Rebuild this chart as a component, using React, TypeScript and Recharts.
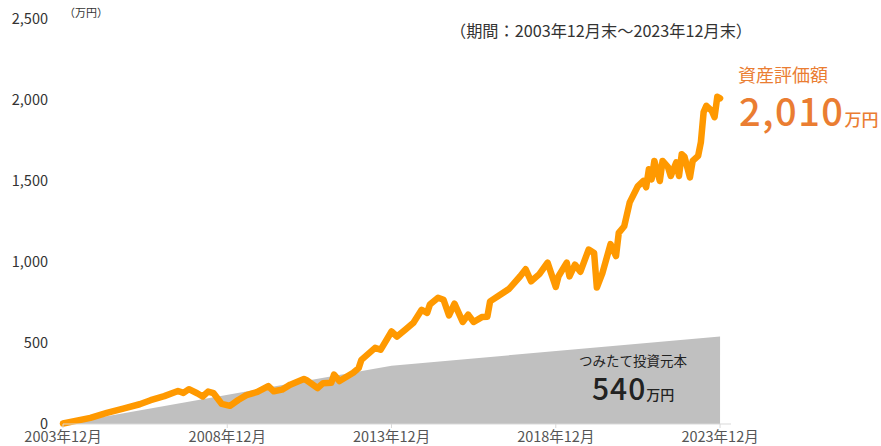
import React from "react";
import { ComposedChart, Line, Area, XAxis, YAxis } from "recharts";

const valueMonths = [0, 10, 16, 22, 28, 32, 37, 42, 44, 46, 49, 51, 53, 55, 58, 61, 64, 67, 71, 75, 77, 80, 83, 88, 89, 93, 95, 98, 99, 101, 106, 108, 109, 114, 116, 120, 122, 125, 128, 131, 133, 134, 137, 139, 141, 143, 146, 148, 150, 153, 155, 156, 159, 163, 167, 169, 171, 174, 177, 180, 181, 184, 185, 187, 189, 192, 194, 195, 197, 200, 202, 203, 205, 207, 210, 212, 213, 214, 215, 216, 218, 219, 221, 222, 224, 225, 226, 227, 229, 230, 232, 233, 234, 235, 237, 238, 239, 240];
const assetValues = [3, 38, 68, 95, 122, 147, 172, 204, 192, 215, 190, 170, 200, 190, 124, 112, 148, 178, 198, 234, 202, 212, 243, 278, 270, 222, 252, 254, 305, 265, 316, 345, 396, 470, 458, 571, 540, 582, 625, 705, 686, 737, 779, 767, 670, 743, 630, 675, 630, 660, 662, 757, 790, 835, 912, 955, 881, 925, 996, 846, 912, 996, 911, 984, 940, 1077, 1055, 842, 930, 1110, 1036, 1180, 1221, 1368, 1469, 1500, 1461, 1572, 1510, 1624, 1500, 1624, 1585, 1531, 1615, 1531, 1665, 1650, 1522, 1624, 1655, 1740, 1925, 1964, 1933, 1894, 2020, 2010];

const principalMonths = [0, 120, 240];
const principalValues = [0, 360, 540];

const xTicks = [0, 60, 120, 180, 240];
const xTickLabels = ["2003年12月", "2008年12月", "2013年12月", "2018年12月", "2023年12月"];
const yTicks = [0, 500, 1000, 1500, 2000, 2500];

const assetData = valueMonths.map((m, i) => ({ m, v: assetValues[i] }));
const principalData = principalMonths.map((m, i) => ({ m, p: principalValues[i] }));

const FONT = '"Noto Sans CJK JP", "Noto Sans", sans-serif';

export default function App() {
  return (
    <div style={{ position: "absolute", left: 0, top: 0, width: 881, height: 446, background: "#fff", fontFamily: FONT }}>
      <ComposedChart width={881} height={446} margin={{ top: 19, right: 150, bottom: 0, left: 0 }}>
        <XAxis
          dataKey="m"
          type="number"
          domain={[0, 244]}
          ticks={xTicks}
          tickFormatter={(v: number) => xTickLabels[xTicks.indexOf(v)]}
          height={22}
          stroke="#d9d9d9"
          tickSize={4}
          tickMargin={4}
          tick={{ fill: "#555", fontSize: 14.5, fontFamily: FONT }}
        />
        <YAxis
          type="number"
          domain={[0, 2500]}
          ticks={yTicks}
          width={63}
          axisLine={false}
          tickLine={false}
          tickSize={0}
          tickMargin={15}
          tickFormatter={(v: number) => v.toLocaleString("en-US")}
          tick={{ fill: "#333", fontSize: 14.5, fontFamily: FONT }}
        />
        <Area
          data={principalData}
          dataKey="p"
          type="linear"
          stroke="none"
          fill="#c0c0c0"
          fillOpacity={1}
          isAnimationActive={false}
        />
        <Line
          data={assetData}
          dataKey="v"
          type="linear"
          stroke="#ff9900"
          strokeWidth={6.5}
          strokeLinejoin="round"
          strokeLinecap="round"
          dot={false}
          isAnimationActive={false}
        />
      </ComposedChart>
      <div style={{ position: "absolute", left: 64, top: 4, fontSize: 11, color: "#333", whiteSpace: "nowrap" }}>（万円）</div>
      <div style={{ position: "absolute", left: 450, top: 18, fontSize: 16.2, color: "#333", whiteSpace: "nowrap" }}>
        （期間：2003年12月末～2023年12月末）
      </div>
      <div style={{ position: "absolute", left: 738, top: 62, fontSize: 18, color: "#ea7d32", whiteSpace: "nowrap", lineHeight: "24px" }}>
        資産評価額
      </div>
      <div style={{ position: "absolute", left: 739, top: 87, color: "#ea7d32", whiteSpace: "nowrap", lineHeight: "46px" }}>
        <span style={{ fontSize: 38, fontWeight: 500, letterSpacing: 1.5 }}>2,010</span>
        <span style={{ fontSize: 17, fontWeight: 500 }}>万円</span>
      </div>
      <div style={{ position: "absolute", left: 579, top: 350, fontSize: 13.5, color: "#222", whiteSpace: "nowrap", lineHeight: "20px" }}>
        つみたて投資元本
      </div>
      <div style={{ position: "absolute", left: 592, top: 369, color: "#222", whiteSpace: "nowrap", lineHeight: "36px" }}>
        <span style={{ fontSize: 30, fontWeight: 500, letterSpacing: 1 }}>540</span>
        <span style={{ fontSize: 14, fontWeight: 500 }}>万円</span>
      </div>
    </div>
  );
}
